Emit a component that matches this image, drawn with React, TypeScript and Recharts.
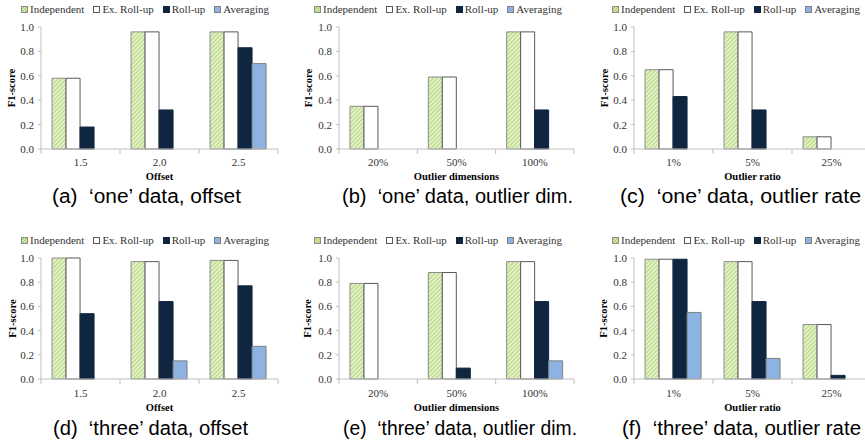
import React from 'react';
import { BarChart, Bar, XAxis, YAxis, Legend, Label } from 'recharts';

const SERIES_NAMES = ['Independent', 'Ex. Roll-up', 'Roll-up', 'Averaging'];
const SERIES_KEYS = ['independent', 'exRollup', 'rollup', 'averaging'];
const Y_TICKS = [0, 0.2, 0.4, 0.6, 0.8, 1.0];

const offsetCategories = ['1.5', '2.0', '2.5'];
const dimCategories = ['20%', '50%', '100%'];
const ratioCategories = ['1%', '5%', '25%'];

// (a) 'one' data, offset
const aIndependent = [0.58, 0.96, 0.96];
const aExRollup = [0.58, 0.96, 0.96];
const aRollup = [0.18, 0.32, 0.83];
const aAveraging = [0, 0, 0.7];
// (b) 'one' data, outlier dim.
const bIndependent = [0.35, 0.59, 0.96];
const bExRollup = [0.35, 0.59, 0.96];
const bRollup = [0, 0, 0.32];
const bAveraging = [0, 0, 0];
// (c) 'one' data, outlier rate
const cIndependent = [0.65, 0.96, 0.1];
const cExRollup = [0.65, 0.96, 0.1];
const cRollup = [0.43, 0.32, 0];
const cAveraging = [0, 0, 0];
// (d) 'three' data, offset
const dIndependent = [1.0, 0.97, 0.98];
const dExRollup = [1.0, 0.97, 0.98];
const dRollup = [0.54, 0.64, 0.77];
const dAveraging = [0, 0.15, 0.27];
// (e) 'three' data, outlier dim.
const eIndependent = [0.79, 0.88, 0.97];
const eExRollup = [0.79, 0.88, 0.97];
const eRollup = [0, 0.09, 0.64];
const eAveraging = [0, 0, 0.15];
// (f) 'three' data, outlier rate
const fIndependent = [0.99, 0.97, 0.45];
const fExRollup = [0.99, 0.97, 0.45];
const fRollup = [0.99, 0.64, 0.03];
const fAveraging = [0.55, 0.17, 0];

const SERIF = "'Liberation Serif', 'Times New Roman', 'DejaVu Serif', serif";
const SANS = "'Liberation Sans', Arial, sans-serif";
const AXIS_GRAY = '#bfbfbf';
const TEXT = '#333333';
const NAVY = '#10253f';
const LIGHT_BLUE = '#8db3e2';

const Y_W = 41;

const panels = [
  { id: 'a', cats: offsetCategories, series: [aIndependent, aExRollup, aRollup, aAveraging], xTitle: 'Offset', caption: '(a)  \u2018one\u2019 data, offset', left: 0, top: 0, plotW: 237, plotH: 122, yTitleX: 11, legendCx: 145, capX: 52, capW: 189, capY: 196, tickDy: 13, xTitleDy: 27 },
  { id: 'b', cats: dimCategories, series: [bIndependent, bExRollup, bRollup, bAveraging], xTitle: 'Outlier dimensions', caption: '(b)  \u2018one\u2019 data, outlier dim.', left: 298, top: 0, plotW: 235, plotH: 122, yTitleX: 10, legendCx: 438, capX: 342, capW: 231, capY: 196, tickDy: 13, xTitleDy: 27 },
  { id: 'c', cats: ratioCategories, series: [cIndependent, cExRollup, cRollup, cAveraging], xTitle: 'Outlier ratio', caption: '(c)  \u2018one\u2019 data, outlier rate', left: 593, top: 0, plotW: 237, plotH: 122, yTitleX: 11, legendCx: 736, capX: 620, capW: 241, capY: 196, tickDy: 13, xTitleDy: 27 },
  { id: 'd', cats: offsetCategories, series: [dIndependent, dExRollup, dRollup, dAveraging], xTitle: 'Offset', caption: '(d)  \u2018three\u2019 data, offset', left: 0, top: 231, plotW: 237, plotH: 121, yTitleX: 12, legendCx: 145, capX: 53, capW: 195, capY: 428, tickDy: 14, xTitleDy: 28 },
  { id: 'e', cats: dimCategories, series: [eIndependent, eExRollup, eRollup, eAveraging], xTitle: 'Outlier dimensions', caption: '(e)  \u2018three\u2019 data, outlier dim.', left: 298, top: 231, plotW: 235, plotH: 121, yTitleX: 9, legendCx: 438, capX: 343, capW: 234, capY: 428, tickDy: 14, xTitleDy: 28 },
  { id: 'f', cats: ratioCategories, series: [fIndependent, fExRollup, fRollup, fAveraging], xTitle: 'Outlier ratio', caption: '(f)  \u2018three\u2019 data, outlier rate', left: 593, top: 231, plotW: 237, plotH: 121, yTitleX: 10, legendCx: 736, capX: 622, capW: 239, capY: 428, tickDy: 14, xTitleDy: 28 },
];

const serifStyle = { fontFamily: SERIF };

function LegendIcon({ index }: { index: number }) {
  if (index === 0) {
    return (
      <svg width={7} height={7} style={{ marginRight: 2, display: 'block' }}>
        <rect x={0.5} y={0.5} width={6} height={6} fill="#d6eab0" stroke="#8c8c8c" />
        <line x1={1} y1={6} x2={6} y2={1} stroke="#9cc65a" />
        <line x1={1} y1={3} x2={3} y2={1} stroke="#9cc65a" />
        <line x1={4} y1={6} x2={6} y2={4} stroke="#9cc65a" />
      </svg>
    );
  }
  const fills = ['', '#ffffff', NAVY, LIGHT_BLUE];
  const strokes = ['', '#595959', NAVY, '#7f7f7f'];
  return (
    <svg width={7} height={7} style={{ marginRight: 2, display: 'block' }}>
      <rect x={0.5} y={0.5} width={6} height={6} fill={fills[index]} stroke={strokes[index]} />
    </svg>
  );
}

function renderLegend() {
  return (
    <div style={{ display: 'flex', justifyContent: 'center', alignItems: 'center', height: 18, fontFamily: SERIF, fontSize: 11, color: TEXT, whiteSpace: 'nowrap' }}>
      {SERIES_NAMES.map((n, i) => (
        <span key={n} style={{ display: 'inline-flex', alignItems: 'center', marginRight: i < SERIES_NAMES.length - 1 ? 9 : 0 }}>
          <LegendIcon index={i} />
          {n}
        </span>
      ))}
    </div>
  );
}

function renderYTick(props: any) {
  const { x, y, payload } = props;
  return (
    <text x={x} y={y} textAnchor="end" dominantBaseline="central" style={serifStyle} fontSize={11} fill={TEXT}>
      {Number(payload.value).toFixed(1)}
    </text>
  );
}

function Panel(p: any) {
  const data = p.cats.map((c: string, i: number) => ({
    cat: c,
    independent: p.series[0][i],
    exRollup: p.series[1][i],
    rollup: p.series[2][i],
    averaging: p.series[3][i],
  }));
  const width = Y_W + p.plotW + 2;
  const height = 27 + p.plotH + 40;
  const half = p.plotW / p.cats.length / 2;
  const hatchId = `hatch-${p.id}`;

  const renderXTick = (props: any) => {
    const { x, y, payload, index } = props;
    return (
      <g>
        {index === 0 && <line x1={x - half} x2={x - half} y1={y} y2={y + 5} stroke={AXIS_GRAY} />}
        <line x1={x + half} x2={x + half} y1={y} y2={y + 5} stroke={AXIS_GRAY} />
        <text x={x} y={y + p.tickDy} textAnchor="middle" dominantBaseline="central" style={serifStyle} fontSize={11} fill={TEXT}>
          {payload.value}
        </text>
      </g>
    );
  };

  const yTitleY = 27 + p.plotH / 2;
  const xTitleX = Y_W + p.plotW / 2;
  const xTitleY = 27 + p.plotH + p.xTitleDy;

  return (
    <>
      <div style={{ position: 'absolute', left: p.left, top: p.top }}>
        <BarChart width={width} height={height} data={data} margin={{ top: 9, right: 2, bottom: 0, left: 0 }} barCategoryGap="14%" barGap={0}>
          <defs>
            <pattern id={hatchId} patternUnits="userSpaceOnUse" width={3} height={3} patternTransform="rotate(45)">
              <rect width={3} height={3} fill="#eef6df" />
              <rect width={1.5} height={3} fill="#b9da80" />
            </pattern>
          </defs>
          <Legend
            verticalAlign="top"
            align="left"
            wrapperStyle={{ top: 0, left: p.legendCx - p.left - 140, width: 280, height: 18 }}
            content={renderLegend}
          />
          <XAxis
            dataKey="cat"
            type="category"
            height={40}
            interval={0}
            tickLine={false}
            tickSize={0}
            tickMargin={0}
            axisLine={{ stroke: AXIS_GRAY }}
            tick={renderXTick}
          >
            <Label
              content={() => (
                <text x={xTitleX} y={xTitleY} textAnchor="middle" dominantBaseline="central" style={serifStyle} fontSize={10.5} fontWeight="bold" fill="#000">
                  {p.xTitle}
                </text>
              )}
            />
          </XAxis>
          <YAxis
            width={Y_W}
            domain={[0, 1]}
            ticks={Y_TICKS}
            interval={0}
            tick={renderYTick}
            tickLine={{ stroke: AXIS_GRAY }}
            tickSize={3}
            tickMargin={4}
            axisLine={{ stroke: AXIS_GRAY }}
          >
            <Label
              content={() => (
                <text
                  x={p.yTitleX}
                  y={yTitleY}
                  transform={`rotate(-90 ${p.yTitleX} ${yTitleY})`}
                  textAnchor="middle"
                  dominantBaseline="central"
                  style={serifStyle}
                  fontSize={10.5}
                  fontWeight="bold"
                  fill="#000"
                >
                  F1-score
                </text>
              )}
            />
          </YAxis>
          <Bar dataKey={SERIES_KEYS[0]} name={SERIES_NAMES[0]} fill={`url(#${hatchId})`} stroke="#8c8c8c" strokeWidth={1} isAnimationActive={false} />
          <Bar dataKey={SERIES_KEYS[1]} name={SERIES_NAMES[1]} fill="#ffffff" stroke="#595959" strokeWidth={1} isAnimationActive={false} />
          <Bar dataKey={SERIES_KEYS[2]} name={SERIES_NAMES[2]} fill={NAVY} stroke={NAVY} strokeWidth={1} isAnimationActive={false} />
          <Bar dataKey={SERIES_KEYS[3]} name={SERIES_NAMES[3]} fill={LIGHT_BLUE} stroke="#7f7f7f" strokeWidth={1} isAnimationActive={false} />
        </BarChart>
      </div>
      <svg
        width={p.capW + 20}
        height={30}
        style={{ position: 'absolute', left: p.capX - 10, top: p.capY - 15, overflow: 'visible' }}
      >
        <text
          x={10}
          y={15}
          dominantBaseline="central"
          textLength={p.capW}
          lengthAdjust="spacingAndGlyphs"
          xmlSpace="preserve"
          style={{ fontFamily: SANS, whiteSpace: 'pre' }}
          fontSize={20}
          fill="#000"
        >
          {p.caption}
        </text>
      </svg>
    </>
  );
}

export default function App() {
  return (
    <div style={{ position: 'absolute', left: 0, top: 0, width: 865, height: 445, overflow: 'hidden', background: '#ffffff' }}>
      {panels.map((p) => (
        <Panel key={p.id} {...p} />
      ))}
    </div>
  );
}
